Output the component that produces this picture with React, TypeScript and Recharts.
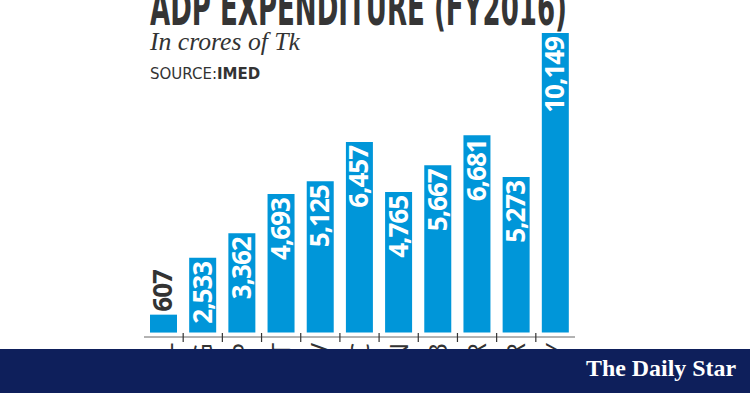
import React from 'react';
import { BarChart, Bar, XAxis, YAxis, LabelList } from 'recharts';

const months = ['JUL', 'AUG', 'SEP', 'OCT', 'NOV', 'DEC', 'JAN', 'FEB', 'MAR', 'APR', 'MAY'];
const spending = [607, 2533, 3362, 4693, 5125, 6457, 4765, 5667, 6681, 5273, 10149];

const data = months.map((month, i) => ({ month, value: spending[i] }));

const BLUE = '#0096d9';
const INK = '#333333';
const NAVY = '#0e1f5b';

const W = 750;
const H = 393;
const MARGIN = { top: 33, right: 175, bottom: 0, left: 144 };
const BAND = (W - MARGIN.left - MARGIN.right) / months.length;

const fmt = (v: number) => v.toLocaleString('en-US');

// value written vertically inside the bar, or above it when the bar is too short
const ValueLabel: React.FC<any> = (props) => {
  const { x, y, width, value } = props;
  const cx = x + width / 2;
  const inside = value > 1500;
  const ty = inside ? y + 4 : y - 3;
  return (
    <text
      x={cx}
      y={ty}
      dy={9}
      transform={`rotate(-90, ${cx}, ${ty})`}
      textAnchor={inside ? 'end' : 'start'}
      fill={inside ? '#ffffff' : INK}
      fontFamily="'Open Sans', sans-serif"
      fontWeight={700}
      fontSize={26}
      letterSpacing={-1}
    >
      {fmt(value)}
    </text>
  );
};

const MonthTick: React.FC<any> = (props) => {
  const { x, y, payload, index } = props;
  const ty = y + 6;
  return (
    <g>
      {index > 0 && (
        <line x1={x - BAND / 2} x2={x - BAND / 2} y1={y - 4} y2={y + 5} stroke={INK} strokeWidth={1.2} />
      )}
      <text
        x={x}
        y={ty}
        dy={9}
        transform={`rotate(-90, ${x}, ${ty})`}
        textAnchor="end"
        fill={INK}
        fontFamily="'Open Sans', sans-serif"
        fontSize={25}
      >
        {payload.value}
      </text>
    </g>
  );
};

export default function App() {
  return (
    <div style={{ position: 'relative', width: W, height: H, background: '#ffffff', overflow: 'hidden' }}>
      <style>{`body{margin:0}`}</style>
      <BarChart width={W} height={H} data={data} margin={MARGIN}>
        <YAxis hide type="number" domain={[-150, 10149]} allowDataOverflow />
        <XAxis
          dataKey="month"
          height={56}
          interval={0}
          tickSize={0}
          tickMargin={0}
          tickLine={false}
          axisLine={{ stroke: '#666666', strokeWidth: 1 }}
          tick={<MonthTick />}
        />
        <Bar dataKey="value" fill={BLUE} barSize={27} isAnimationActive={false}>
          <LabelList dataKey="value" content={<ValueLabel />} />
        </Bar>
      </BarChart>
      <svg width={W} height={H} style={{ position: 'absolute', left: 0, top: 0, pointerEvents: 'none' }}>
        <text
          x={150}
          y={25}
          fill="#353535"
          fontFamily="'DejaVu Sans', sans-serif"
          fontWeight={700}
          fontSize={50}
          textLength={417}
          lengthAdjust="spacingAndGlyphs"
        >
          ADP EXPENDITURE (FY2016)
        </text>
        <text
          x={150}
          y={50}
          fill={INK}
          fontFamily="'Liberation Serif', serif"
          fontStyle="italic"
          fontSize={25}
          textLength={150}
          lengthAdjust="spacingAndGlyphs"
        >
          In crores of Tk
        </text>
        <text x={150} y={79} fill={INK} fontFamily="'DejaVu Sans', sans-serif" fontSize={15}>
          SOURCE:<tspan fontWeight={700}>IMED</tspan>
        </text>
        <rect x={0} y={349} width={W} height={H - 349} fill={NAVY} />
        <text
          x={586}
          y={376}
          fill="#ffffff"
          fontFamily="'Liberation Serif', serif"
          fontWeight={700}
          fontSize={24}
          textLength={150}
          lengthAdjust="spacingAndGlyphs"
        >
          The Daily Star
        </text>
      </svg>
    </div>
  );
}
